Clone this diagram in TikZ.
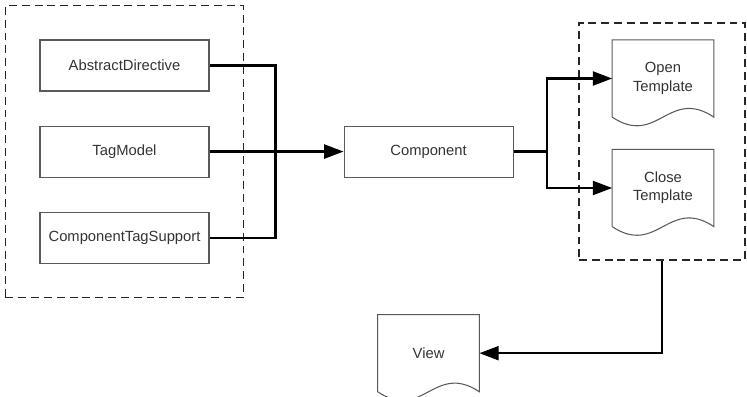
\documentclass[tikz,border=0pt]{standalone}
\usepackage{fontspec}
\setmainfont{Liberation Sans}
\usetikzlibrary{positioning,arrows.meta,fit}
\begin{document}
\begin{tikzpicture}[>={Triangle[length=11pt,width=8pt]}]
  \tikzstyle{every node}=[align=center, font=\fontsize{8.4}{10.4}\selectfont, text=black!80]
  \tikzstyle{box}=[draw=black!65, line width=0.6pt, rectangle, minimum width=3.38cm, minimum height=1.02cm]
  \tikzstyle{doc}=[rectangle, minimum width=2.02cm, minimum height=1.53cm]
  \tikzstyle{group}=[draw=black!85, dash pattern=on 4.5pt off 2.8pt, line width=0.8pt, rectangle, inner sep=0.68cm]
  % \draw [step=1.0,blue, very thick] (0,0) grid (15,-8);
  \useasboundingbox (0,0) rectangle (14.94,-7.94);
  \node [box] (n1) at (2.49,-1.31) {AbstractDirective};
  \node [box, below = 0.68cm of n1] (n2) {TagModel};
  \node [box, below = 0.68cm of n2] (n3) {ComponentTagSupport};
  \node [box, right = 2.68cm of n2] (comp) {Component};
  \node [doc] (open) at (13.26,-1.57) {Open\\Template};
  \node [doc] (close) at (13.26,-3.76) {Close\\Template};
  \node [doc, below = 2.74cm of comp] (view) {View};
  \node [group, fit=(n1)(n3)] (g1) {};
  \node [group, inner sep=0pt, fit={(11.58,-0.46) (14.9,-5.2)}] (g2) {};

  % document outlines with wavy bottom
  \foreach \d in {open,close,view}
    \draw [draw=black!65, line width=0.6pt] (\d.south west) |- (\d.north east) -- (\d.south east)
      .. controls +(-0.9,0.6) and +(0.9,-0.6) .. (\d.south west);

  \draw [line width=1.2pt] (n1.east) -- ++(1.32,0) |- (n3.east);
  \draw [->, line width=1.2pt] (n2.east) -- (comp.west);
  \draw [->, line width=1.2pt] (comp.east) -- ++(0.66,0) coordinate (fork) |- (open.west);
  \draw [->, line width=1.2pt] (fork) |- (close.west);
  \draw [->, line width=1.2pt] (g2.south) |- (view.east);
\end{tikzpicture}
\end{document}
